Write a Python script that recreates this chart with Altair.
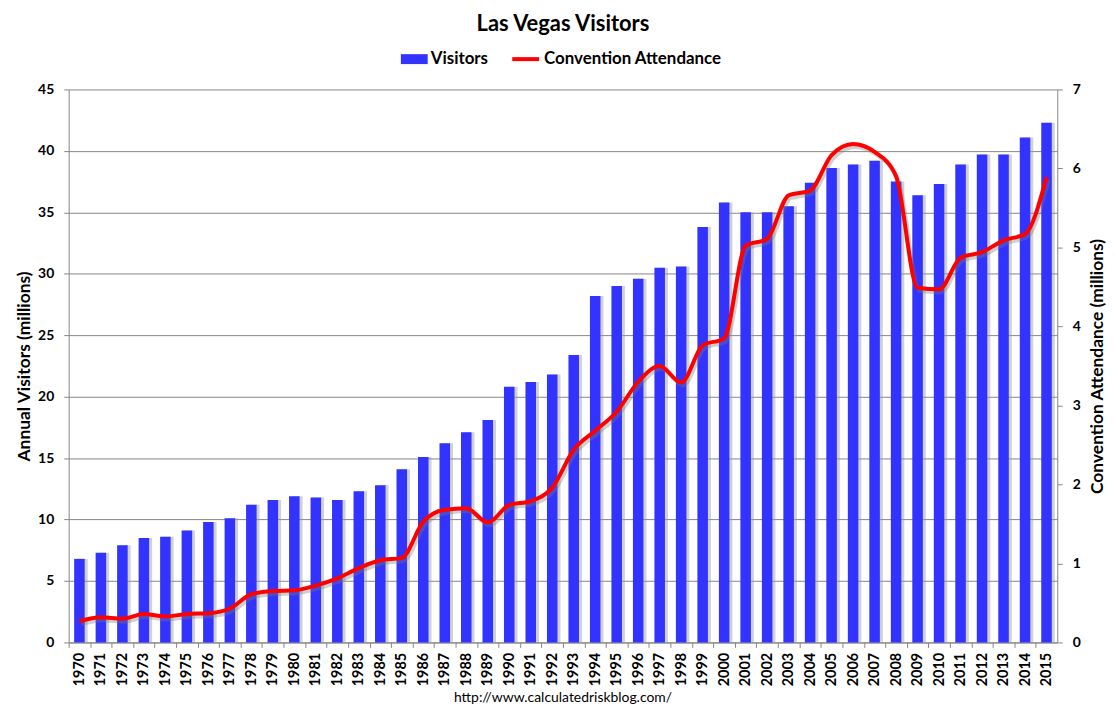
import altair as alt
import pandas as pd

years = ["1970", "1971", "1972", "1973", "1974", "1975", "1976", "1977", "1978", "1979",
         "1980", "1981", "1982", "1983", "1984", "1985", "1986", "1987", "1988", "1989",
         "1990", "1991", "1992", "1993", "1994", "1995", "1996", "1997", "1998", "1999",
         "2000", "2001", "2002", "2003", "2004", "2005", "2006", "2007", "2008", "2009",
         "2010", "2011", "2012", "2013", "2014", "2015"]

visitors = [6.8, 7.3, 7.9, 8.5, 8.6, 9.1, 9.8, 10.1, 11.2, 11.6,
            11.9, 11.8, 11.6, 12.3, 12.8, 14.1, 15.1, 16.2, 17.1, 18.1,
            20.8, 21.2, 21.8, 23.4, 28.2, 29.0, 29.6, 30.5, 30.6, 33.8,
            35.8, 35.0, 35.0, 35.5, 37.4, 38.6, 38.9, 39.2, 37.5, 36.4,
            37.3, 38.9, 39.7, 39.7, 41.1, 42.3]

convention = [0.27, 0.32, 0.30, 0.36, 0.33, 0.36, 0.37, 0.43, 0.61, 0.65,
              0.66, 0.72, 0.81, 0.94, 1.04, 1.07, 1.53, 1.68, 1.70, 1.52,
              1.74, 1.79, 1.96, 2.44, 2.68, 2.92, 3.30, 3.50, 3.29, 3.76,
              3.85, 5.02, 5.11, 5.66, 5.72, 6.17, 6.31, 6.21, 5.90, 4.49,
              4.47, 4.87, 4.94, 5.09, 5.17, 5.89]

series_names = ["Visitors", "Convention Attendance"]
left_ticks = [0, 5, 10, 15, 20, 25, 30, 35, 40, 45]
right_ticks = [0, 1, 2, 3, 4, 5, 6, 7]

title_text = "Las Vegas Visitors"
left_title = "Annual Visitors (millions)"
right_title = "Convention Attendance (millions)"
footer = "http://www.calculatedriskblog.com/"

df = pd.DataFrame({"year": years, "visitors": visitors, "convention": convention})
df["bar_series"] = series_names[0]
df["line_series"] = series_names[1]

W, H = 994, 556
STEP = W / len(years)
FONT = "Lato"
BLUE = "#3333FF"
RED = "#FF0000"
GRID = "#868686"

base = alt.Chart(df)

x = alt.X(
    "year:N", sort=None, title=None,
    scale=alt.Scale(paddingInner=0.51, paddingOuter=0.255),
    axis=alt.Axis(labelAngle=270, labelFont=FONT, labelFontSize=14.5, labelFontWeight="bold",
                  labelColor="#000", tickSize=5, tickColor=GRID, domainColor=GRID,
                  tickOffset=-STEP / 2, labelOffset=STEP / 2, labelPadding=5, grid=False),
)

yL = alt.Y(
    "visitors:Q",
    scale=alt.Scale(domain=[0, 45], nice=False),
    axis=alt.Axis(values=left_ticks, title=left_title, grid=True, gridColor=GRID,
                  domainColor=GRID, tickColor=GRID, tickSize=5, labelPadding=10,
                  labelFont=FONT, labelFontSize=14, labelFontWeight="bold", labelColor="#000",
                  titleFont=FONT, titleFontSize=17.5, titleFontWeight="bold", titleColor="#000",
                  titlePadding=4),
)

yR = alt.Y(
    "convention:Q",
    scale=alt.Scale(domain=[0, 7], nice=False),
    axis=alt.Axis(orient="right", values=right_ticks, title=right_title, grid=False,
                  domainColor=GRID, tickColor=GRID, tickSize=5, labelPadding=10,
                  labelFont=FONT, labelFontSize=14, labelFontWeight="bold", labelColor="#000",
                  titleFont=FONT, titleFontSize=17.5, titleFontWeight="bold", titleColor="#000",
                  titleAngle=270, titleBaseline="top", titlePadding=8),
)

bar_shadow = base.mark_bar(color="#9a9a9a", opacity=0.45, xOffset=3).encode(x=x, y=yL)
bars = base.mark_bar().encode(
    x=x, y=yL,
    fill=alt.Fill("bar_series:N",
                  scale=alt.Scale(domain=[series_names[0]], range=[BLUE]),
                  legend=alt.Legend(title=None, orient="none", legendX=334, legendY=-44,
                                    symbolType="M-1,-0.37H1V0.37H-1Z", symbolSize=729,
                                    symbolStrokeWidth=0, labelOffset=3, labelLimit=400,
                                    labelFont=FONT, labelFontSize=17, labelFontWeight="bold",
                                    labelColor="#000")),
)

line_shadow = base.mark_line(color="#777777", opacity=0.35, strokeWidth=4,
                             interpolate="monotone", xOffset=2, yOffset=3).encode(x=x, y=yR)
line = base.mark_line(strokeWidth=4, interpolate="monotone").encode(
    x=x, y=yR,
    stroke=alt.Stroke("line_series:N",
                      scale=alt.Scale(domain=[series_names[1]], range=[RED]),
                      legend=alt.Legend(title=None, orient="none", legendX=444, legendY=-46,
                                        symbolType="stroke", symbolSize=729,
                                        symbolStrokeWidth=4, labelOffset=3, labelLimit=400,
                                        labelFont=FONT, labelFontSize=17, labelFontWeight="bold",
                                        labelColor="#000")),
)

foot = alt.Chart(pd.DataFrame({"t": [footer]})).mark_text(
    font=FONT, fontSize=14, color="#000", baseline="middle", align="center"
).encode(text="t:N", x=alt.value(W / 2), y=alt.value(H + 56))

left = alt.layer(bar_shadow, bars, foot)
right = alt.layer(line_shadow, line)

chart = alt.layer(left, right).resolve_scale(y="independent").properties(
    width=W, height=H,
    title=alt.TitleParams(title_text, font=FONT, fontSize=22, fontWeight="bold", color="#000",
                          anchor="middle", offset=8),
    autosize=alt.AutoSizeParams(type="none"),
    padding={"left": 61, "top": 80, "right": 50, "bottom": 60},
).configure_view(stroke="transparent")

chart.save("out.html", embed_options={"renderer": "svg", "actions": False})
